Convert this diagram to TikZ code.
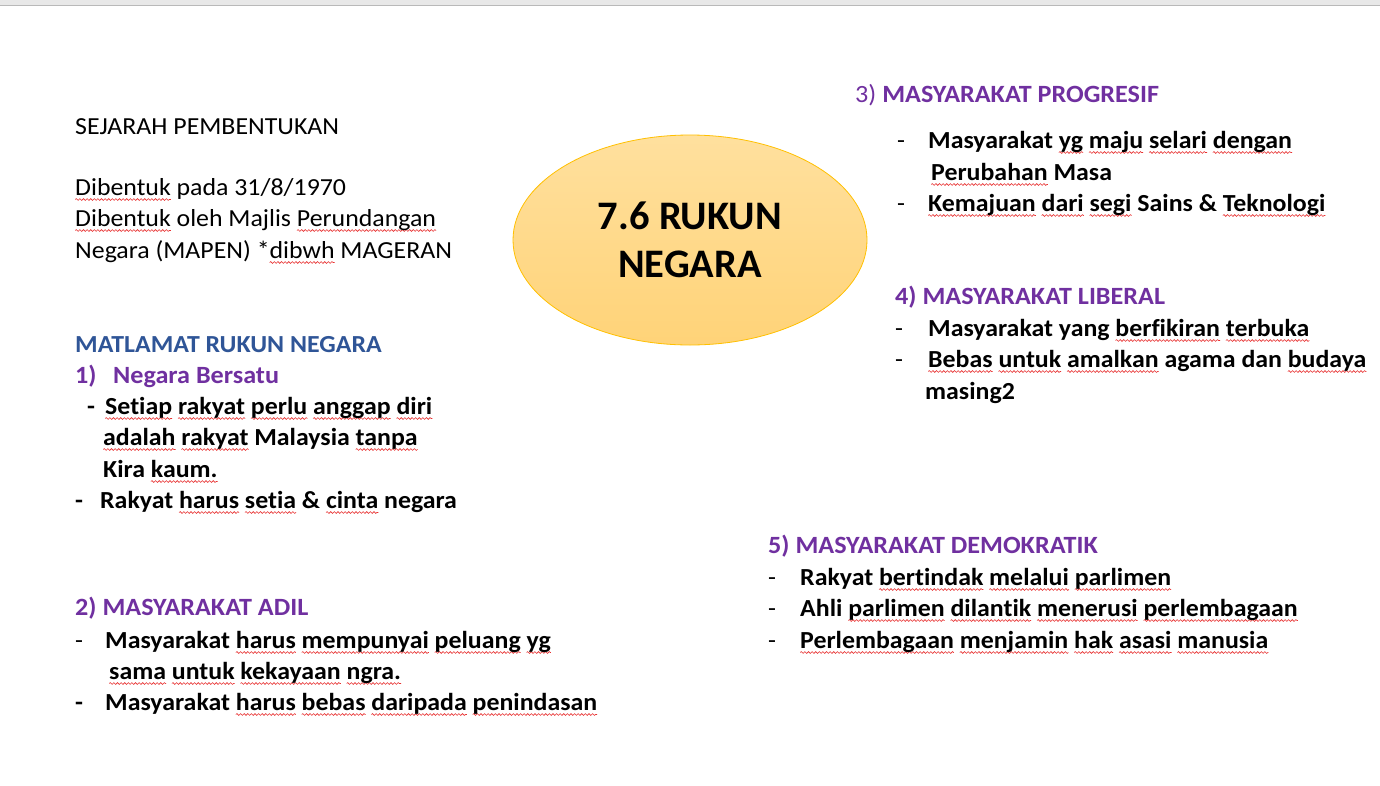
\documentclass[tikz,border=0pt]{standalone}
\usepackage{fontspec}
\setmainfont{Carlito}[Ligatures=NoCommon, FakeStretch=1.055]
\newfontfamily\corefont{Carlito}[Ligatures=NoCommon]
\usetikzlibrary{shapes.geometric,decorations.pathmorphing}
\definecolor{rnpurple}{RGB}{112,48,160}
\definecolor{rnblue}{RGB}{47,85,151}
\definecolor{rnred}{RGB}{232,48,48}
\definecolor{rngold}{RGB}{255,192,0}
\definecolor{rntop}{RGB}{255,224,158}
\definecolor{rnbot}{RGB}{255,211,120}
\newsavebox\sqbox
\newcommand\sq[1]{\sbox\sqbox{#1}\rlap{\tikz[baseline=0pt, x=1pt, y=1pt]{\useasboundingbox (0,0);
  \draw[rnred, line width=0.6pt, decorate, decoration={snake, amplitude=0.9pt, segment length=3.6pt}]
    (0,-4.5) -- (\the\wd\sqbox,-4.5);}}\usebox\sqbox}
\newcommand\dsh[1]{\makebox[#1][l]{-}}
\newcommand\dshm[1]{\makebox[#1][l]{\mdseries-}}

\begin{document}
\begin{tikzpicture}[x=1pt, y=-1pt,
    body/.style={anchor=base west, inner sep=0pt, font=\fontsize{24.5}{29}\selectfont},
    bodyb/.style={body, font=\fontsize{24.5}{29}\selectfont\bfseries},
    head/.style={bodyb, font=\fontsize{24.8}{29}\selectfont\bfseries, text=rnpurple}]
    \useasboundingbox[fill=white] (0,0) rectangle (1380,785);
    \fill[gray!18] (0,0) rectangle (1380,5);
    \draw[gray!55, line width=1.2pt] (0,5.5) -- (1380,5.5);

    \node[ellipse, draw=rngold, line width=0.8pt, top color=rntop, bottom color=rnbot,
      minimum width=354pt, minimum height=210pt, inner sep=0pt, align=center,
      font=\corefont\fontsize{40.5}{48}\selectfont\bfseries] (core) at (690,240) {7.6 RUKUN\\NEGARA};

    % sejarah
    \node[body] (sj) at (75,134) {SEJARAH PEMBENTUKAN};
    \node[body] (sj1) at (75,195) {\sq{Dibentuk} pada 31/8/1970};
    \node[body] (sj2) at (75,226) {\sq{Dibentuk} oleh Majlis \sq{Perundangan}};
    \node[body] (sj3) at (75,258) {Negara (MAPEN) *\sq{dibwh} MAGERAN};

    % 1) negara bersatu
    \node[bodyb, text=rnblue] (mt) at (75,352) {MATLAMAT RUKUN NEGARA};
    \node[head] (g1) at (75,383) {1)};
    \node[head] (g1t) at (113,383) {Negara Bersatu};
    \node[bodyb] (g1a) at (87,414) {\dsh{18pt}\sq{Setiap} \sq{rakyat} \sq{perlu} \sq{anggap} \sq{diri}};
    \node[bodyb] (g1b) at (103,445) {\sq{adalah} \sq{rakyat} Malaysia \sq{tanpa}};
    \node[bodyb] (g1c) at (103,477) {Kira \sq{kaum.}};
    \node[bodyb] (g1d) at (75,508) {\dsh{25pt}Rakyat \sq{harus} \sq{setia} \& \sq{cinta} negara};

    % 2) adil
    \node[head] (g2) at (75,615) {2) MASYARAKAT ADIL};
    \node[bodyb] (g2a) at (75,648) {\dshm{30pt}Masyarakat \sq{harus} \sq{mempunyai} \sq{peluang} \sq{yg}};
    \node[bodyb] (g2b) at (109,679) {\sq{sama} \sq{untuk} \sq{kekayaan} \sq{ngra.}};
    \node[bodyb] (g2c) at (75,710) {\dsh{30pt}Masyarakat \sq{harus} \sq{bebas} \sq{daripada} \sq{penindasan}};

    % 3) progresif
    \node[head] (g3) at (855,102) {{\mdseries 3)} MASYARAKAT PROGRESIF};
    \node[bodyb] (g3a) at (897,148) {\dshm{31pt}Masyarakat \sq{yg} \sq{maju} \sq{selari} \sq{dengan}};
    \node[bodyb] (g3b) at (931,180) {\sq{Perubahan} Masa};
    \node[bodyb] (g3c) at (897,211) {\dshm{31pt}\sq{Kemajuan} \sq{dari} \sq{segi} Sains \& \sq{Teknologi}};

    % 4) liberal
    \node[head] (g4) at (895,304) {4) MASYARAKAT LIBERAL};
    \node[bodyb] (g4a) at (895,336) {\dshm{33pt}Masyarakat yang \sq{berfikiran} \sq{terbuka}};
    \node[bodyb] (g4b) at (895,367) {\dshm{33pt}\sq{Bebas} \sq{untuk} \sq{amalkan} agama dan \sq{budaya}};
    \node[bodyb] (g4c) at (925,399) {masing2};

    % 5) demokratik
    \node[head] (g5) at (768,553) {5) MASYARAKAT DEMOKRATIK};
    \node[bodyb] (g5a) at (768,585) {\dshm{32pt}Rakyat \sq{bertindak} \sq{melalui} \sq{parlimen}};
    \node[bodyb] (g5b) at (768,616) {\dshm{32pt}Ahli \sq{parlimen} \sq{dilantik} \sq{menerusi} \sq{perlembagaan}};
    \node[bodyb] (g5c) at (768,648) {\dshm{32pt}\sq{Perlembagaan} \sq{menjamin} \sq{hak} \sq{asasi} \sq{manusia}};
  \end{tikzpicture}
\end{document}
